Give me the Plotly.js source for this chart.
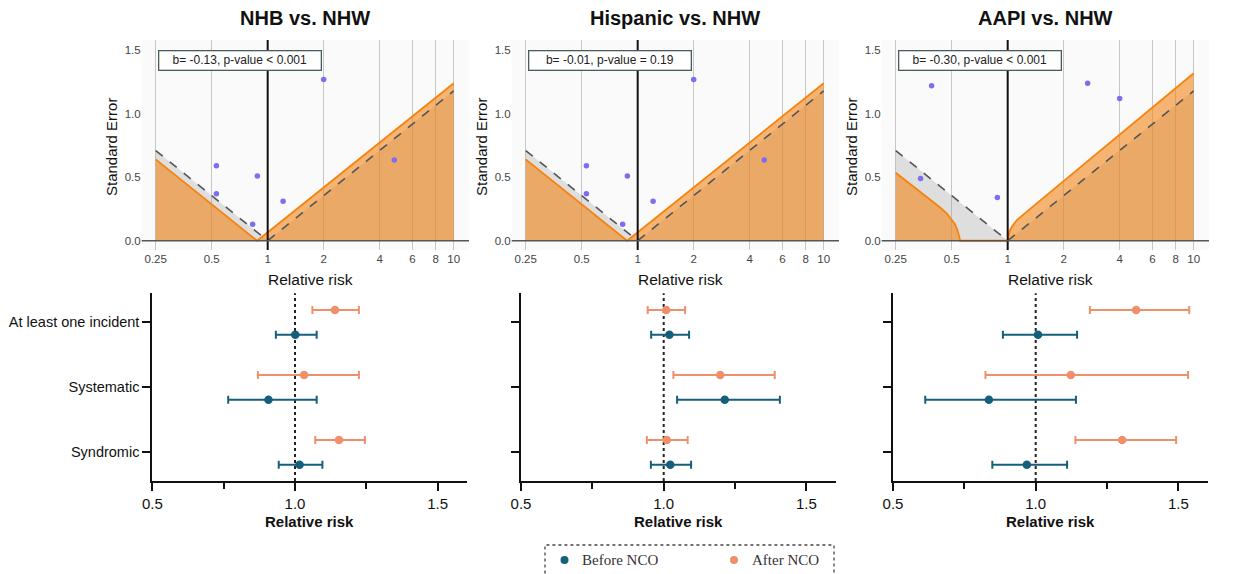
<!DOCTYPE html>
<html>
<head>
<meta charset="utf-8">
<script src="https://cdn.plot.ly/plotly-3.0.1.min.js"></script>
<style>html,body{margin:0;padding:0;background:#fff;}#chart{width:1233px;height:574px;}</style>
</head>
<body>
<div id="chart"></div>
<script>
// ---------------- DATA ----------------
const panelTitles = ['NHB vs. NHW', 'Hispanic vs. NHW', 'AAPI vs. NHW'];
const eggerLabels = ['b= -0.13, p-value < 0.001', 'b= -0.01, p-value = 0.19', 'b= -0.30, p-value < 0.001'];

const rrTickVals = [0.25, 0.5, 1, 2, 4, 6, 8, 10];
const rrTickText = ['0.25', '0.5', '1', '2', '4', '6', '8', '10'];

// funnel plot study points (relative risk, standard error)
const nhbStudyRR = [0.53, 0.53, 0.88, 0.83, 1.21, 2.0, 4.79];
const nhbStudySE = [0.59, 0.37, 0.51, 0.13, 0.31, 1.27, 0.635];
const hispStudyRR = [0.53, 0.53, 0.88, 0.83, 1.21, 2.0, 4.79];
const hispStudySE = [0.59, 0.37, 0.51, 0.13, 0.31, 1.27, 0.635];
const aapiStudyRR = [0.39, 0.34, 0.88, 2.69, 4.0];
const aapiStudySE = [1.22, 0.49, 0.34, 1.24, 1.12];

// null funnel (dashed) boundary
const nullFunnelRR = [0.25, 1, 10];
const nullFunnelSE = [0.71, 0, 1.18];

// adjusted funnel (orange) boundary
const nhbAdjRR = [0.25, 0.878, 10];
const nhbAdjSE = [0.64, 0, 1.24];
const hispAdjRR = [0.25, 0.878, 10];
const hispAdjSE = [0.64, 0, 1.24];
const aapiAdjRR = [0.25, 0.29, 0.311, 0.345, 0.382, 0.43, 0.47, 0.5, 0.521, 0.537, 0.545, 0.551, 0.554, 1, 1.005, 1.015, 1.03, 1.06, 1.12, 1.37, 2, 4, 10];
const aapiAdjSE = [0.535, 0.462, 0.425, 0.375, 0.326, 0.265, 0.216, 0.168, 0.131, 0.083, 0.058, 0.024, 0, 0, 0.03, 0.06, 0.085, 0.115, 0.163, 0.27, 0.47, 0.836, 1.318];

// forest plots
const outcomes = ['At least one incident', 'Systematic', 'Syndromic'];
const nhbBeforeRR = [1.001, 0.907, 1.016];
const nhbBeforeLo = [0.933, 0.766, 0.943];
const nhbBeforeHi = [1.076, 1.076, 1.096];
const nhbAfterRR = [1.140, 1.032, 1.154];
const nhbAfterLo = [1.061, 0.870, 1.071];
const nhbAfterHi = [1.224, 1.224, 1.245];

const hispBeforeRR = [1.020, 1.214, 1.023];
const hispBeforeLo = [0.956, 1.047, 0.955];
const hispBeforeHi = [1.089, 1.407, 1.096];
const hispAfterRR = [1.009, 1.198, 1.011];
const hispAfterLo = [0.944, 1.034, 0.941];
const hispAfterHi = [1.075, 1.389, 1.084];

const aapiBeforeRR = [1.008, 0.836, 0.969];
const aapiBeforeLo = [0.885, 0.613, 0.848];
const aapiBeforeHi = [1.145, 1.141, 1.110];
const aapiAfterRR = [1.352, 1.123, 1.303];
const aapiAfterLo = [1.190, 0.824, 1.139];
const aapiAfterHi = [1.538, 1.534, 1.492];

const legendNames = ['Before NCO', 'After NCO'];

// ---------------- STYLE / LAYOUT ----------------
const W = 1233, H = 574;
const px = v => v / W;
const py = v => 1 - v / H;
const FONT = 'Liberation Sans, Arial, Helvetica, sans-serif';
const SERIF = 'Liberation Serif, Times New Roman, serif';
const colBefore = '#155f7b';
const colAfter = '#ef8f6c';
const colPoint = '#7b6ef0';
const colFunnelLine = '#f5830f';

const topPanels = [
  {study: [nhbStudyRR, nhbStudySE], adj: [nhbAdjRR, nhbAdjSE]},
  {study: [hispStudyRR, hispStudySE], adj: [hispAdjRR, hispAdjSE]},
  {study: [aapiStudyRR, aapiStudySE], adj: [aapiAdjRR, aapiAdjSE]}
];
const botPanels = [
  {b: [nhbBeforeRR, nhbBeforeLo, nhbBeforeHi], a: [nhbAfterRR, nhbAfterLo, nhbAfterHi]},
  {b: [hispBeforeRR, hispBeforeLo, hispBeforeHi], a: [hispAfterRR, hispAfterLo, hispAfterHi]},
  {b: [aapiBeforeRR, aapiBeforeLo, aapiBeforeHi], a: [aapiAfterRR, aapiAfterLo, aapiAfterHi]}
];

const topLeft = [141.7, 511.7, 881.7];
const topW = 327.3;
const botLeft = [152.3, 521, 893];
const botW = 314.5;
const catPos = [2, 1, 0];

const traces = [];
const layout = {
  width: W, height: H,
  margin: {l: 0, r: 0, t: 0, b: 0},
  paper_bgcolor: '#ffffff',
  plot_bgcolor: 'rgba(0,0,0,0)',
  showlegend: false,
  shapes: [],
  annotations: []
};

topPanels.forEach((p, i) => {
  const n = i + 1;
  const xa = n === 1 ? 'x' : 'x' + n;
  const ya = n === 1 ? 'y' : 'y' + n;
  const xk = n === 1 ? 'xaxis' : 'xaxis' + n;
  const yk = n === 1 ? 'yaxis' : 'yaxis' + n;
  layout[xk] = {
    domain: [px(topLeft[i]), px(topLeft[i] + topW)],
    anchor: ya, type: 'log',
    range: [-0.6773, 1.0822],
    tickvals: rrTickVals, ticktext: rrTickText,
    showgrid: true, gridcolor: '#c6c6c6', gridwidth: 1.4,
    zeroline: false, showline: false, ticks: '',
    tickfont: {family: FONT, size: 11.5, color: '#444'}
  };
  layout[yk] = {
    domain: [py(250), py(40)],
    anchor: xa,
    range: [-0.073, 1.58],
    tickvals: [0, 0.5, 1, 1.5], ticktext: ['0.0', '0.5', '1.0', '1.5'],
    showgrid: false, zeroline: false, showline: false, ticks: '',
    tickfont: {family: FONT, size: 11.5, color: '#444'}
  };
  // background
  layout.shapes.push({type: 'rect', xref: xa + ' domain', yref: ya + ' domain', x0: 0, x1: 1, y0: 0, y1: 1,
    fillcolor: '#fafafa', line: {width: 0}, layer: 'below'});
  // null funnel (gray fill)
  traces.push({x: nullFunnelRR, y: nullFunnelSE, xaxis: xa, yaxis: ya, type: 'scatter', mode: 'none',
    fill: 'tozeroy', fillcolor: 'rgba(150,150,150,0.28)', hoverinfo: 'skip'});
  // adjusted funnel (orange fill)
  traces.push({x: p.adj[0], y: p.adj[1], xaxis: xa, yaxis: ya, type: 'scatter', mode: 'none',
    fill: 'tozeroy', fillcolor: 'rgba(243,133,25,0.6)', hoverinfo: 'skip'});
  // zero line
  layout.shapes.push({type: 'line', xref: xa + ' domain', yref: ya, x0: 0, x1: 1, y0: 0, y1: 0,
    line: {color: '#555', width: 1.6}, layer: 'above'});
  // dashed null line
  traces.push({x: nullFunnelRR, y: nullFunnelSE, xaxis: xa, yaxis: ya, type: 'scatter', mode: 'lines',
    line: {color: '#555', width: 1.6, dash: 'dash'}, hoverinfo: 'skip'});
  // orange line
  traces.push({x: p.adj[0], y: p.adj[1], xaxis: xa, yaxis: ya, type: 'scatter', mode: 'lines',
    line: {color: colFunnelLine, width: 1.8}, hoverinfo: 'skip'});
  // vertical line at RR = 1
  traces.push({x: [1, 1], y: [-1, 3], xaxis: xa, yaxis: ya, type: 'scatter', mode: 'lines',
    line: {color: '#111', width: 2}, hoverinfo: 'skip'});
  // study points
  traces.push({x: p.study[0], y: p.study[1], xaxis: xa, yaxis: ya, type: 'scatter', mode: 'markers',
    marker: {color: colPoint, size: 5.5}, hoverinfo: 'skip'});

  const off = i * 370;
  layout.annotations.push({text: '<b>' + panelTitles[i] + '</b>', xref: 'paper', yref: 'paper',
    x: px(topLeft[i] + topW / 2), y: py(18), xanchor: 'center', yanchor: 'middle', showarrow: false,
    font: {family: FONT, size: 20, color: '#111'}});
  layout.annotations.push({text: eggerLabels[i], xref: 'paper', yref: 'paper',
    x: px(240.3 + off), y: py(60.7), xanchor: 'center', yanchor: 'middle', showarrow: false,
    width: 159, height: 16, borderpad: 1, borderwidth: 1.3, bordercolor: '#4b5b60', bgcolor: '#ffffff',
    font: {family: FONT, size: 12, color: '#222'}});
  layout.annotations.push({text: 'Standard Error', xref: 'paper', yref: 'paper',
    x: px(111 + off), y: py(147), xanchor: 'center', yanchor: 'middle', textangle: -90, showarrow: false,
    font: {family: FONT, size: 15, color: '#111'}});
  layout.annotations.push({text: 'Relative risk', xref: 'paper', yref: 'paper',
    x: px(topLeft[i] + topW / 2 + 5), y: py(279), xanchor: 'center', yanchor: 'middle', showarrow: false,
    font: {family: FONT, size: 15.5, color: '#111'}});
});

botPanels.forEach((p, i) => {
  const n = i + 4;
  const xa = 'x' + n, ya = 'y' + n;
  layout['xaxis' + n] = {
    domain: [px(botLeft[i]), px(botLeft[i] + botW)],
    anchor: ya, range: [0.5, 1.602],
    tickvals: [0.5, 1.0, 1.5], ticktext: ['0.5', '1.0', '1.5'],
    ticks: 'outside', ticklen: 8, tickwidth: 2, tickcolor: '#111',
    minor: {tickmode: 'linear', tick0: 0.5, dtick: 0.25, ticks: 'outside', ticklen: 6, tickwidth: 2, tickcolor: '#111', showgrid: false},
    showline: true, linecolor: '#111', linewidth: 2,
    showgrid: false, zeroline: false,
    tickfont: {family: FONT, size: 15, color: '#111'}
  };
  layout['yaxis' + n] = {
    domain: [py(481), py(293.3)],
    anchor: xa, range: [-0.44, 2.446],
    tickvals: catPos, ticktext: i === 0 ? outcomes : ['', '', ''],
    ticks: 'outside', ticklen: 8, tickwidth: 2, tickcolor: '#111',
    showline: true, linecolor: '#111', linewidth: 2,
    showgrid: false, zeroline: false,
    tickfont: {family: FONT, size: 14.5, color: '#111'}
  };
  layout.shapes.push({type: 'line', xref: xa, yref: ya + ' domain', x0: 1, x1: 1, y0: 0, y1: 1,
    line: {color: '#222', width: 2, dash: 'dot'}, layer: 'below'});

  const mk = (d, yoff, col, name) => ({
    x: d[0], y: catPos.map(c => c + yoff), xaxis: xa, yaxis: ya, type: 'scatter', mode: 'markers', name: name,
    marker: {color: col, size: 8.5},
    error_x: {type: 'data', symmetric: false,
      array: d[0].map((v, k) => d[2][k] - v), arrayminus: d[0].map((v, k) => v - d[1][k]),
      color: col, thickness: 2, width: 4},
    hoverinfo: 'skip'
  });
  traces.push(mk(p.a, 0.19, colAfter, legendNames[1]));
  traces.push(mk(p.b, -0.19, colBefore, legendNames[0]));

  layout.annotations.push({text: '<b>Relative risk</b>', xref: 'paper', yref: 'paper',
    x: px(botLeft[i] + botW / 2), y: py(521), xanchor: 'center', yanchor: 'middle', showarrow: false,
    font: {family: FONT, size: 15, color: '#111'}});
});

// manual legend
layout.shapes.push({type: 'rect', xref: 'paper', yref: 'paper', x0: px(545), x1: px(834), y0: -0.1, y1: py(545),
  line: {color: '#444', width: 1.3, dash: 'dot'}, fillcolor: 'rgba(0,0,0,0)'});
[[564.5, colBefore, 580, legendNames[0]], [734, colAfter, 750, legendNames[1]]].forEach(l => {
  layout.shapes.push({type: 'circle', xref: 'paper', yref: 'paper', xsizemode: 'pixel', ysizemode: 'pixel',
    xanchor: px(l[0]), yanchor: py(560), x0: -4, x1: 4, y0: -4, y1: 4,
    fillcolor: l[1], line: {width: 0}});
  layout.annotations.push({text: l[3], xref: 'paper', yref: 'paper', x: px(l[2]), y: py(560),
    xanchor: 'left', yanchor: 'middle', showarrow: false,
    font: {family: SERIF, size: 15, color: '#333'}});
});

Plotly.newPlot('chart', traces, layout, {displayModeBar: false, staticPlot: true});
</script>
</body>
</html>
